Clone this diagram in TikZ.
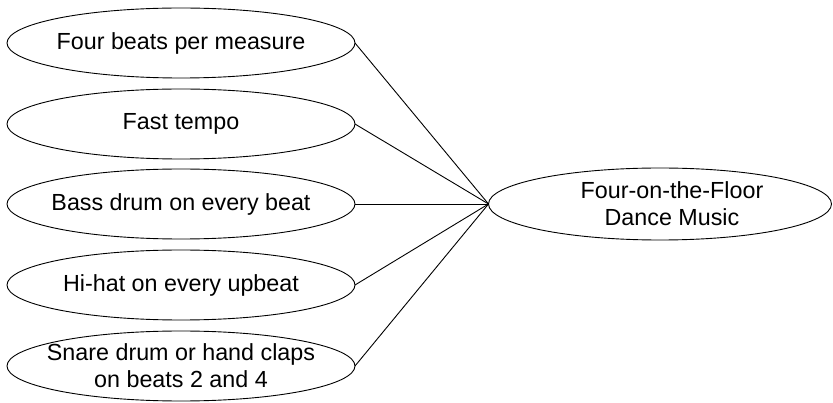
\documentclass[tikz,border=0pt]{standalone}
\usepackage{fontspec}
\setmainfont{Liberation Sans}
\usetikzlibrary{shapes.geometric}
\begin{document}
\begin{tikzpicture}[x=1pt,y=-1pt,
  oval/.style={draw, line width=0.9pt, ellipse, inner xsep=-60pt, inner ysep=-20pt, outer sep=0pt,
    minimum width=348pt, minimum height=70pt,
    font=\fontsize{23.3}{27}\selectfont, align=center},
  link/.style={line width=0.9pt}]
\useasboundingbox (0,0) rectangle (833,403);
\node[oval] (a) at (181,43) {Four beats per measure};
\node[oval] (b) at (181,124) {Fast tempo};
\node[oval] (c) at (181,204) {Bass drum on every beat};
\node[oval] (d) at (181,285) {Hi-hat on every upbeat};
\node[oval] (e) at (181,366) {Snare drum or hand claps\\on beats 2 and 4};
\node[oval, minimum width=343pt, minimum height=72pt] (m) at (660,204) {\hspace*{24pt}Four-on-the-Floor\\\hspace*{24pt}Dance Music};
\foreach \n in {a,b,c,d,e} \draw[link] (\n.east) -- (m.west);
\end{tikzpicture}
\end{document}
